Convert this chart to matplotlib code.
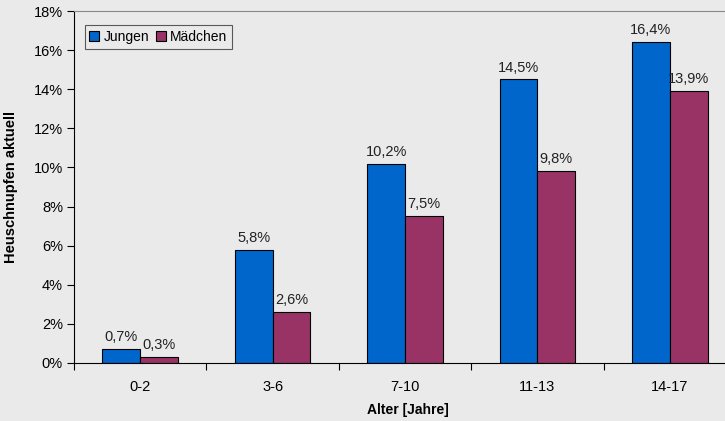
import numpy as np
import matplotlib.pyplot as plt

plt.rcParams['font.family'] = ['Liberation Sans', 'DejaVu Sans']

altersgruppen = ['0-2', '3-6', '7-10', '11-13', '14-17']
jungen = [0.7, 5.8, 10.2, 14.5, 16.4]
maedchen = [0.3, 2.6, 7.5, 9.8, 13.9]
y_ticks = [0, 2, 4, 6, 8, 10, 12, 14, 16, 18]

bg = '#eaeaea'
fig = plt.figure(figsize=(7.25, 4.21), dpi=100, facecolor=bg)
# right edge of the plot area runs past the figure border
ax = fig.add_axes([74 / 725, (421 - 363) / 421, (736 - 74) / 725, (363 - 11) / 421])
ax.set_facecolor(bg)

x = np.arange(len(altersgruppen))
w = 0.285
b1 = ax.bar(x - w / 2, jungen, w, color='#0066cc', edgecolor='black', linewidth=0.8, label='Jungen')
b2 = ax.bar(x + w / 2, maedchen, w, color='#993366', edgecolor='black', linewidth=0.8, label='Mädchen')

for bars, vals in ((b1, jungen), (b2, maedchen)):
    for rect, v in zip(bars, vals):
        ax.text(rect.get_x() + rect.get_width() / 2, v + 0.25, f'{v:.1f}%'.replace('.', ','),
                ha='center', va='bottom', fontsize=10.5, color='#222222')

ax.set_xlim(-0.5, len(altersgruppen) - 0.5)
ax.set_ylim(0, 18)
ax.set_yticks(y_ticks)
ax.set_yticklabels([f'{t}%' for t in y_ticks], fontsize=10.5)
ax.set_xticks(np.arange(len(altersgruppen) + 1) - 0.5)
ax.set_xticklabels([])
ax.set_xticks(x, minor=True)
ax.set_xticklabels(altersgruppen, minor=True, fontsize=10.5)
ax.tick_params(axis='x', which='minor', length=0, pad=12)
ax.tick_params(axis='x', which='major', length=5, width=0.8)
ax.tick_params(axis='y', length=5, width=0.8, pad=3)

ax.spines['top'].set_color('#888888')
ax.spines['right'].set_visible(False)
for s in ('left', 'bottom'):
    ax.spines[s].set_color('black')
    ax.spines[s].set_linewidth(0.8)

ax.set_ylabel('Heuschnupfen aktuell', fontsize=10.5, fontweight='bold')
ax.yaxis.set_label_coords(-(74 - 18) / (736 - 74), 0.5)
ax.set_xlabel('Alter [Jahre]', fontsize=10, fontweight='bold')
ax.xaxis.set_label_coords((408 - 74) / (736 - 74), -(409 - 363 - 6) / 352)

leg = ax.legend(loc='upper left', bbox_to_anchor=(0.016, 0.96), ncol=2, fontsize=10,
                frameon=True, fancybox=False, edgecolor='#333333', facecolor=bg,
                handlelength=0.7, handleheight=0.7, handletextpad=0.3, columnspacing=0.5,
                borderpad=0.35, borderaxespad=0)
leg.get_frame().set_linewidth(0.8)

fig.savefig('out.png', dpi=100, facecolor=bg)
